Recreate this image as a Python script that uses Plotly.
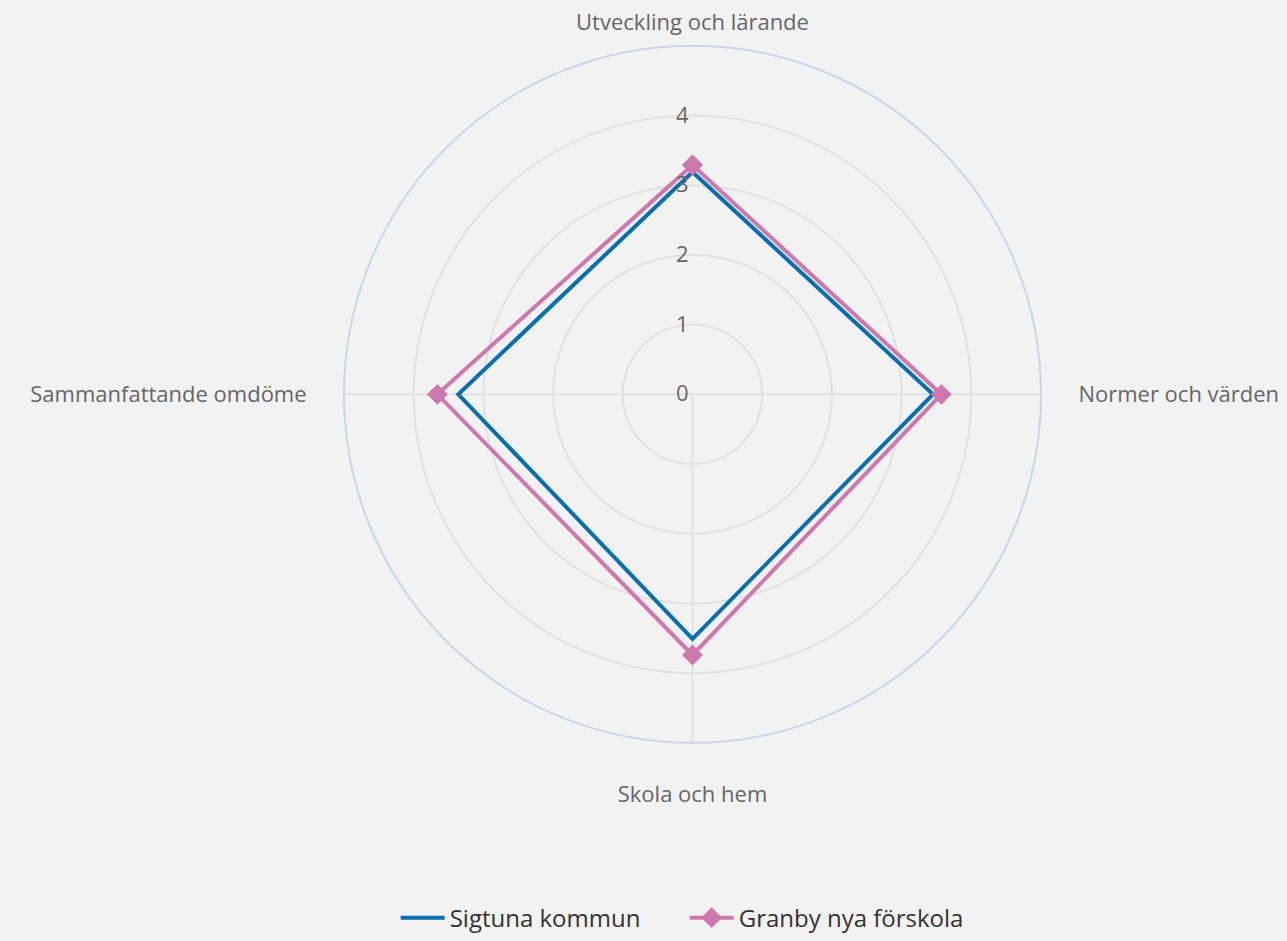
import plotly.graph_objects as go

categories = ["Utveckling och lärande", "Normer och värden", "Skola och hem", "Sammanfattande omdöme"]
sigtuna = [3.19, 3.45, 3.51, 3.36]
granby = [3.29, 3.57, 3.74, 3.66]
radial_ticks = [0, 1, 2, 3, 4]

theta = categories + [categories[0]]

fig = go.Figure()
fig.add_trace(go.Scatterpolar(
    r=sigtuna + [sigtuna[0]], theta=theta, mode="lines", name="Sigtuna kommun",
    line=dict(color="#0a6fb0", width=4)))
fig.add_trace(go.Scatterpolar(
    r=granby + [granby[0]], theta=theta, mode="lines+markers", name="Granby nya förskola",
    line=dict(color="#cf78ad", width=4),
    marker=dict(symbol="diamond", size=16, color="#cf78ad")))
# helper trace (draws nothing) so the second polar frame carries the same categories
fig.add_trace(go.Scatterpolar(
    r=sigtuna, theta=categories, mode="none", showlegend=False, hoverinfo="skip",
    subplot="polar2"))

W, H = 1287, 941
FONT = "Open Sans, sans-serif"
dom = dict(x=[342 / W, 1043 / W], y=[1 - 746 / H, 1 - 46 / H])
fig.update_layout(
    width=W, height=H,
    paper_bgcolor="#f2f2f2", plot_bgcolor="#f2f2f2",
    margin=dict(l=0, r=0, t=0, b=0),
    font=dict(family=FONT, color="#666666", size=21),
    polar=dict(
        domain=dom,
        bgcolor="#f2f2f2",
        angularaxis=dict(direction="clockwise", rotation=90,
                         categoryorder="array", categoryarray=categories,
                         tickmode="array", tickvals=categories[1:],
                         showline=True, linecolor="#c9d5ea", linewidth=2,
                         gridcolor="#e1e1e1", gridwidth=2,
                         ticks="outside", ticklen=32, tickcolor="rgba(0,0,0,0)",
                         tickfont=dict(size=22, color="#666666")),
        radialaxis=dict(range=[0, 5], tickvals=radial_ticks, angle=90, tickangle=90,
                        side="counterclockwise",
                        showline=False, ticks="", gridcolor="#e1e1e1", gridwidth=2,
                        tickfont=dict(size=22, color="#666666")),
    ),
    polar2=dict(
        domain=dom,
        bgcolor="rgba(0,0,0,0)",
        angularaxis=dict(direction="clockwise", rotation=90,
                         categoryorder="array", categoryarray=categories,
                         tickmode="array", tickvals=categories[:1],
                         showline=False, showgrid=False,
                         ticks="outside", ticklen=7, tickcolor="rgba(0,0,0,0)",
                         tickfont=dict(size=22, color="#666666")),
        radialaxis=dict(range=[0, 5], visible=False),
    ),
    legend=dict(orientation="h", x=0.532, xanchor="center", y=1 - 922 / H, yanchor="middle",
                itemwidth=44, entrywidth=230,
                font=dict(size=24, color="#333333"), bgcolor="rgba(0,0,0,0)"),
)

fig.write_html("out.html", config={"displayModeBar": False},
               post_script="document.body.style.margin='0';document.body.style.background='#f2f2f2';")
